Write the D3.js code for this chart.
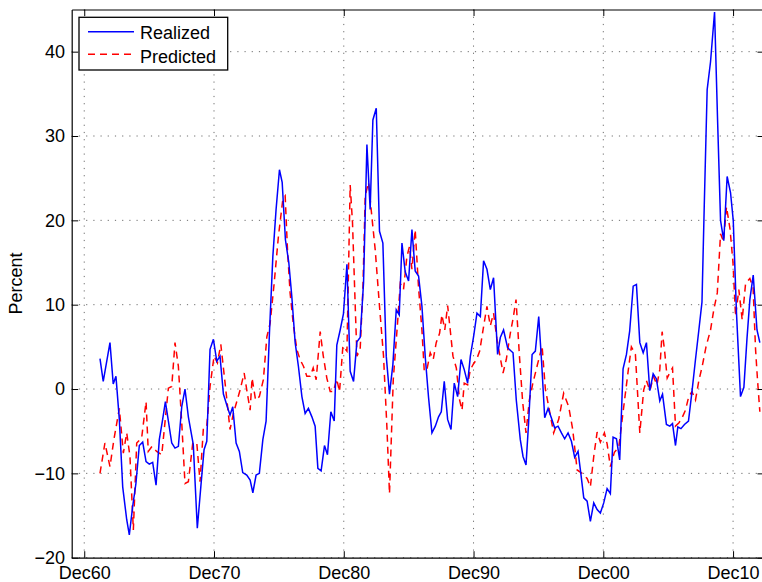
<!DOCTYPE html>
<html>
<head>
<meta charset="utf-8">
<script src="https://cdn.jsdelivr.net/npm/d3@7"></script>
<style>
  body { margin: 0; background: #fff; }
  svg { display: block; overflow: hidden; }
  text { font-family: "Liberation Sans", Arial, Helvetica, sans-serif; }
</style>
</head>
<body>
<svg id="chart"></svg>
<script>
// x ticks (decimal year of each December) and their labels
const tickYears = [1960.917, 1970.917, 1980.917, 1990.917, 2000.917, 2010.917];
const tickLabels = ['Dec60', 'Dec70', 'Dec80', 'Dec90', 'Dec00', 'Dec10'];
const yTicks = [-20, -10, 0, 10, 20, 30, 40];

// [decimal year, percent]
const realized = [
  [1962.13, 3.6], [1962.38, 0.9], [1962.90, 5.5], [1963.15, 0.6], [1963.36, 1.5],
  [1963.62, -3.6], [1963.88, -11.6], [1964.19, -15.5], [1964.39, -17.3], [1964.65, -13.9],
  [1964.90, -11.2], [1965.16, -6.7], [1965.42, -6.3], [1965.68, -8.6], [1965.93, -8.9],
  [1966.19, -8.7], [1966.45, -11.4], [1966.70, -6.0], [1966.96, -3.6], [1967.17, -1.5],
  [1967.66, -6.4], [1967.91, -7.0], [1968.17, -6.8], [1968.43, -2.1], [1968.68, 0.0],
  [1968.94, -3.3], [1969.32, -6.6], [1969.63, -16.5], [1969.90, -11.6], [1970.15, -7.2],
  [1970.36, -6.2], [1970.61, 4.7], [1970.87, 5.9], [1971.13, 3.3], [1971.38, 3.9],
  [1971.64, -0.6], [1971.90, -1.9], [1972.15, -3.1], [1972.36, -2.1], [1972.62, -6.4],
  [1972.87, -7.4], [1973.13, -9.9], [1973.44, -10.2], [1973.70, -10.8], [1973.91, -12.3],
  [1974.16, -10.2], [1974.41, -10.0], [1974.68, -6.0], [1974.93, -3.8], [1975.19, 6.7],
  [1975.45, 15.7], [1975.70, 21.3], [1975.96, 26.0], [1976.17, 24.5], [1976.42, 17.7],
  [1976.68, 15.0], [1976.91, 11.0], [1977.17, 5.5], [1977.42, 2.7], [1977.69, -0.9],
  [1977.94, -2.9], [1978.19, -2.3], [1978.46, -3.3], [1978.71, -4.4], [1978.92, -9.4],
  [1979.17, -9.7], [1979.43, -6.7], [1979.66, -7.8], [1979.92, -2.7], [1980.18, -3.8],
  [1980.38, 5.2], [1980.64, 7.0], [1980.89, 8.9], [1981.16, 14.8], [1981.41, 2.1],
  [1981.67, 0.9], [1981.93, 5.6], [1982.18, 6.1], [1982.44, 12.6], [1982.70, 29.0],
  [1982.95, 21.3], [1983.16, 31.9], [1983.42, 33.3], [1983.67, 18.7], [1983.93, 17.3],
  [1984.19, 3.9], [1984.44, -0.6], [1984.70, 2.9], [1984.96, 9.4], [1985.19, 8.8],
  [1985.40, 17.3], [1985.65, 13.9], [1985.91, 12.8], [1986.17, 18.9], [1986.42, 14.0],
  [1986.68, 13.4], [1986.94, 9.8], [1987.20, 3.7], [1987.45, -1.0], [1987.71, -5.2],
  [1987.97, -4.4], [1988.22, -3.3], [1988.43, -2.7], [1988.66, 0.9], [1988.92, -3.6],
  [1989.18, -4.8], [1989.43, 0.7], [1989.69, -0.9], [1989.95, 3.5], [1990.20, 2.3],
  [1990.46, 0.7], [1990.67, 3.9], [1990.92, 6.2], [1991.18, 9.0], [1991.44, 8.6],
  [1991.69, 15.2], [1991.95, 14.2], [1992.21, 11.8], [1992.46, 13.2], [1992.77, 4.1],
  [1992.98, 6.1], [1993.23, 7.0], [1993.54, 4.9], [1993.81, 4.5], [1993.96, 4.3],
  [1994.21, -1.3], [1994.52, -6.0], [1994.73, -8.0], [1994.96, -9.0], [1995.16, -4.0],
  [1995.43, 4.1], [1995.68, 4.5], [1995.94, 8.6], [1996.17, 3.0], [1996.40, -3.4],
  [1996.66, -2.3], [1996.91, -3.4], [1997.17, -4.6], [1997.43, -4.4], [1997.69, -5.2],
  [1997.94, -5.9], [1998.20, -5.2], [1998.46, -6.2], [1998.71, -8.1], [1998.97, -7.4],
  [1999.20, -10.2], [1999.41, -12.9], [1999.67, -13.3], [1999.92, -15.7], [2000.18, -13.5],
  [2000.44, -14.3], [2000.69, -14.7], [2000.95, -13.5], [2001.21, -11.8], [2001.46, -12.4],
  [2001.67, -5.7], [2001.93, -5.9], [2002.18, -8.4], [2002.44, 2.4], [2002.70, 4.1],
  [2002.95, 6.9], [2003.22, 12.2], [2003.47, 12.4], [2003.73, 5.5], [2003.99, 4.3],
  [2004.24, 5.5], [2004.50, -0.2], [2004.76, 1.8], [2005.01, 1.2], [2005.27, -1.4],
  [2005.48, -0.6], [2005.78, -4.2], [2006.04, -4.4], [2006.25, -4.1], [2006.48, -6.7],
  [2006.66, -4.5], [2006.90, -4.7], [2007.17, -4.2], [2007.48, -3.8], [2007.75, -0.3],
  [2008.02, 3.5], [2008.28, 7.0], [2008.52, 10.3], [2008.70, 22.0], [2008.92, 35.5],
  [2009.18, 38.8], [2009.49, 44.7], [2009.72, 32.0], [2009.95, 20.0], [2010.20, 17.6],
  [2010.46, 25.2], [2010.72, 23.3], [2010.93, 20.0], [2011.18, 9.0], [2011.49, -0.9],
  [2011.75, 0.2], [2011.99, 6.0], [2012.21, 10.6], [2012.47, 13.5], [2012.76, 7.0],
  [2012.98, 5.5],
];

const predicted = [
  [1962.13, -10.0], [1962.51, -6.4], [1962.90, -9.2], [1963.20, -6.0], [1963.62, -2.3],
  [1963.93, -7.6], [1964.19, -5.2], [1964.44, -8.0], [1964.70, -16.7], [1964.96, -6.4],
  [1965.34, -5.8], [1965.68, -1.5], [1965.85, -7.4], [1966.14, -6.8], [1966.50, -7.4],
  [1966.89, -7.8], [1967.40, 0.1], [1967.66, 0.3], [1967.91, 5.5], [1968.17, 2.7],
  [1968.43, -4.0], [1968.68, -11.2], [1968.94, -11.0], [1969.28, -6.4], [1969.59, -6.4],
  [1969.84, -11.0], [1970.10, -4.6], [1970.36, -4.4], [1970.61, 0.3], [1970.92, 3.9],
  [1971.18, 3.1], [1971.44, 5.3], [1971.77, 0.7], [1972.15, -4.8], [1972.41, -2.9],
  [1972.93, -0.1], [1973.24, 1.9], [1973.44, -0.1], [1973.70, -2.5], [1973.85, 1.3],
  [1974.12, -1.3], [1974.41, -0.9], [1974.72, 1.1], [1974.99, 6.2], [1975.24, 7.8],
  [1975.55, 12.5], [1975.88, 18.1], [1976.22, 22.5], [1976.40, 22.9], [1976.58, 16.5],
  [1976.78, 11.4], [1977.04, 7.5], [1977.30, 4.7], [1977.55, 3.5], [1977.81, 2.7],
  [1978.07, 1.5], [1978.33, 1.5], [1978.56, 2.5], [1978.79, 1.1], [1979.10, 6.8],
  [1979.33, 4.0], [1979.61, 1.3], [1979.87, -0.3], [1980.12, -0.3], [1980.37, 1.2],
  [1980.59, -0.3], [1980.85, 5.1], [1981.16, 4.5], [1981.41, 24.2], [1981.59, 19.7],
  [1981.80, 9.8], [1981.93, 3.9], [1982.18, 4.7], [1982.39, 11.8], [1982.57, 22.9],
  [1982.82, 24.5], [1983.11, 20.0], [1983.34, 16.5], [1983.67, 9.8], [1983.98, 3.9],
  [1984.24, -4.5], [1984.44, -12.4], [1984.73, 1.1], [1985.06, 7.8], [1985.27, 12.5],
  [1985.52, 11.8], [1985.78, 15.7], [1985.98, 16.9], [1986.17, 14.2], [1986.42, 18.9],
  [1986.68, 12.0], [1986.94, 7.0], [1987.12, 2.1], [1987.35, 2.5], [1987.58, 4.3],
  [1987.81, 3.5], [1988.04, 5.5], [1988.30, 6.6], [1988.48, 8.8], [1988.70, 7.0],
  [1988.92, 9.9], [1989.12, 7.0], [1989.33, 3.9], [1989.59, 2.5], [1989.84, -1.3],
  [1990.03, -2.5], [1990.20, 0.7], [1990.46, 0.5], [1990.67, 2.3], [1990.92, 3.0],
  [1991.15, 3.5], [1991.39, 4.5], [1991.69, 7.4], [1991.95, 9.8], [1992.21, 7.5],
  [1992.46, 9.0], [1992.71, 6.0], [1992.93, 4.1], [1993.19, 1.9], [1993.44, 3.5],
  [1993.75, 6.6], [1993.98, 8.5], [1994.19, 10.6], [1994.45, 4.0], [1994.70, -1.5],
  [1994.96, -5.2], [1995.22, -1.3], [1995.49, 0.7], [1995.81, 2.7], [1996.20, 5.1],
  [1996.45, 0.0], [1996.71, -2.1], [1997.09, -5.2], [1997.48, -3.6], [1997.86, -0.5],
  [1998.25, -2.1], [1998.56, -4.8], [1998.90, -9.6], [1999.28, -10.0], [1999.67, -10.6],
  [1999.92, -11.6], [2000.18, -8.0], [2000.44, -5.1], [2000.69, -6.3], [2001.00, -5.2],
  [2001.21, -6.5], [2001.46, -9.2], [2001.77, -7.5], [2002.11, -6.9], [2002.49, -2.1],
  [2002.88, 2.7], [2003.08, 5.0], [2003.39, 4.1], [2003.73, -5.2], [2004.03, -0.1],
  [2004.24, 1.0], [2004.51, -0.2], [2004.78, 1.5], [2005.05, 0.5], [2005.27, 2.3],
  [2005.45, 6.8], [2005.63, 4.7], [2005.84, 1.3], [2006.09, 2.1], [2006.25, 2.5],
  [2006.48, -4.4], [2006.75, -4.0], [2006.99, -3.4], [2007.25, -2.5], [2007.50, -0.9],
  [2007.75, -0.3], [2008.02, -1.3], [2008.28, 1.0], [2008.54, 2.7], [2008.83, 5.0],
  [2009.18, 7.0], [2009.43, 9.4], [2009.70, 11.4], [2009.95, 18.4], [2010.18, 17.5],
  [2010.41, 21.6], [2010.68, 19.0], [2010.91, 15.0], [2011.11, 8.6], [2011.36, 11.8],
  [2011.62, 8.2], [2011.88, 12.5], [2012.21, 13.1], [2012.46, 12.0], [2012.65, 4.7],
  [2012.80, 1.1], [2012.98, -2.7],
];

// Dimensions (the right edge of the axes box sits just outside the window)
const W = 762, H = 582;
const margin = { top: 9.5, right: -2, bottom: 24.3, left: 71.7 };
const width = W - margin.left - margin.right;
const height = H - margin.top - margin.bottom;

const svg = d3.select('#chart').attr('width', W).attr('height', H);
const g = svg.append('g').attr('transform', `translate(${margin.left},${margin.top})`);

// Scales
const xScale = d3.scaleLinear().domain([1959.95, 2013.3]).range([0, width]);
const yScale = d3.scaleLinear().domain([-20, 45]).range([height, 0]);

// Dotted grid
const grid = g.append('g')
  .attr('stroke', '#6e6e6e')
  .attr('stroke-width', 1)
  .attr('stroke-dasharray', '1.2,6');
grid.selectAll('.vg').data(tickYears).enter().append('line')
  .attr('x1', (d) => xScale(d)).attr('x2', (d) => xScale(d))
  .attr('y1', 0).attr('y2', height);
grid.selectAll('.hg').data(yTicks).enter().append('line')
  .attr('x1', 0).attr('x2', width)
  .attr('y1', (d) => yScale(d)).attr('y2', (d) => yScale(d));

// Lines, clipped to the axes
g.append('clipPath').attr('id', 'clip')
  .append('rect').attr('width', width).attr('height', height);

const line = d3.line().x((d) => xScale(d[0])).y((d) => yScale(d[1]));

g.append('path').datum(predicted)
  .attr('clip-path', 'url(#clip)')
  .attr('fill', 'none').attr('stroke', '#ff0000')
  .attr('stroke-width', 1.5).attr('stroke-dasharray', '7,5')
  .attr('d', line);

g.append('path').datum(realized)
  .attr('clip-path', 'url(#clip)')
  .attr('fill', 'none').attr('stroke', '#0000ff')
  .attr('stroke-width', 1.5)
  .attr('d', line);

// Axes, ticks pointing inward like MATLAB
const fmtY = (d) => (d < 0 ? '\u2212' + Math.abs(d) : String(d));

const xAxisGrp = g.append('g')
  .attr('transform', `translate(0,${height})`)
  .call(d3.axisBottom(xScale).tickValues(tickYears)
    .tickFormat((d, i) => tickLabels[i]).tickSizeInner(-6.5).tickSizeOuter(0));
xAxisGrp.selectAll('text').attr('y', 21.8).attr('dy', 0);

const yAxisGrp = g.append('g')
  .call(d3.axisLeft(yScale).tickValues(yTicks).tickFormat(fmtY)
    .tickSizeInner(-6.5).tickSizeOuter(0).tickPadding(6.7));

g.append('g')
  .call(d3.axisTop(xScale).tickValues(tickYears).tickFormat('')
    .tickSizeInner(-6.5).tickSizeOuter(0));
g.append('g')
  .attr('transform', `translate(${width},0)`)
  .call(d3.axisRight(yScale).tickValues(yTicks).tickFormat('')
    .tickSizeInner(-6.5).tickSizeOuter(0));

g.selectAll('.domain').attr('stroke', '#000').attr('stroke-width', 1.2);
g.selectAll('.tick line').attr('stroke', '#000').attr('stroke-width', 1);
g.selectAll('.tick text').attr('font-size', 18).attr('fill', '#000')
  .attr('font-family', '"Liberation Sans", Arial, Helvetica, sans-serif');

// Y label
svg.append('text')
  .attr('transform', `translate(21.5,${margin.top + height / 2}) rotate(-90)`)
  .attr('text-anchor', 'middle')
  .attr('font-size', 18)
  .text('Percent');

// Legend
const legend = svg.append('g');
legend.append('rect')
  .attr('x', 79).attr('y', 17.3).attr('width', 148.7).attr('height', 52.7)
  .attr('fill', '#fff').attr('stroke', '#000').attr('stroke-width', 1.3);
legend.append('line')
  .attr('x1', 88).attr('x2', 134).attr('y1', 31.7).attr('y2', 31.7)
  .attr('stroke', '#0000ff').attr('stroke-width', 1.5);
legend.append('line')
  .attr('x1', 88).attr('x2', 134).attr('y1', 54.3).attr('y2', 54.3)
  .attr('stroke', '#ff0000').attr('stroke-width', 1.5).attr('stroke-dasharray', '7,5');
legend.append('text').attr('x', 140).attr('y', 39).attr('font-size', 18).text('Realized');
legend.append('text').attr('x', 140).attr('y', 62.5).attr('font-size', 18).text('Predicted');
</script>
</body>
</html>
